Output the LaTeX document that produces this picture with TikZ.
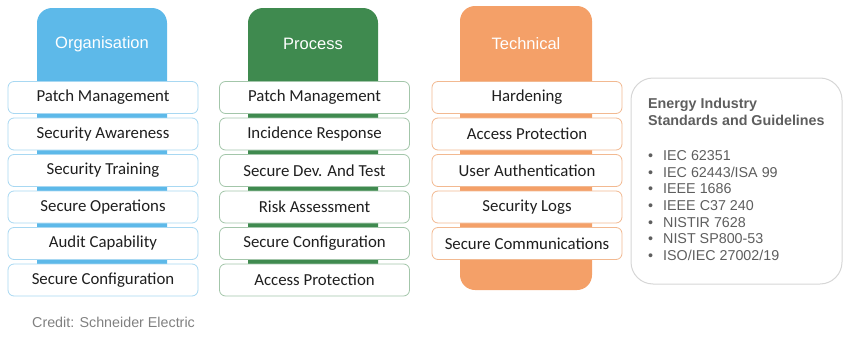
\documentclass[tikz,border=0pt]{standalone}
\usepackage{fontspec}
\setmainfont{Liberation Sans}
\newfontfamily\boxfont{Carlito}
\definecolor{orgblue}{HTML}{5DB9E9}
\definecolor{procgreen}{HTML}{3F8A4F}
\definecolor{techorange}{HTML}{F4A068}
\definecolor{orgline}{HTML}{A8D8F2}
\definecolor{procline}{HTML}{A3C6AA}
\definecolor{techline}{HTML}{F2B991}
\definecolor{stdline}{HTML}{D6D6D6}
\definecolor{stdtext}{HTML}{5E5E5E}
\tikzset{
  tab/.style={rounded corners=15pt, minimum width=130pt, inner sep=0pt},
  tabtitle/.style={text=white, font=\fontsize{16.5}{19}\selectfont},
  item/.style={draw, fill=white, rounded corners=6pt, line width=0.8pt,
    minimum width=190pt, minimum height=32pt, inner sep=0pt,
    text=black!88, font=\boxfont\fontsize{16.8}{19}\selectfont},
  orgitem/.style={item, draw=orgline},
  procitem/.style={item, draw=procline},
  techitem/.style={item, draw=techline}
}

\begin{document}
\begin{tikzpicture}[x=1pt, y=-1pt]
    \useasboundingbox (0,0) rectangle (844,340);
    % column backgrounds
    \fill[orgblue, tab] (37,8) rectangle (167,280);
    \fill[procgreen, tab] (248,8) rectangle (378,280);
    \fill[techorange, tab] (460,6) rectangle (592,290);
    \node[tabtitle] (orgtitle) at (102,44) {Organisation};
    \node[tabtitle] (proctitle) at (313,44) {Process};
    \node[tabtitle] (techtitle) at (526,44) {Technical};
    % organisation
    \node[orgitem] (org1) at (103,97.5) {Patch Management};
    \node[orgitem] (org2) at (103,134) {Security Awareness};
    \node[orgitem] (org3) at (103,170.5) {Security Training};
    \node[orgitem] (org4) at (103,207) {Secure Operations};
    \node[orgitem] (org5) at (103,243.5) {Audit Capability};
    \node[orgitem] (org6) at (103,280) {Secure Configuration};
    % process
    \node[procitem] (proc1) at (314.5,97.5) {Patch Management};
    \node[procitem] (proc2) at (314.5,134) {Incidence Response};
    \node[procitem] (proc3) at (314.5,170.5) {Secure Dev. And Test};
    \node[procitem] (proc4) at (314.5,207) {Risk Assessment};
    \node[procitem] (proc5) at (314.5,243.5) {Secure Configuration};
    \node[procitem] (proc6) at (314.5,280) {Access Protection};
    % technical
    \node[techitem] (tech1) at (527,97.5) {Hardening};
    \node[techitem] (tech2) at (527,134) {Access Protection};
    \node[techitem] (tech3) at (527,170.5) {User Authentication};
    \node[techitem] (tech4) at (527,207) {Security Logs};
    \node[techitem] (tech5) at (527,243.5) {Secure Communications};
    % standards
    \draw[stdline, line width=1pt, rounded corners=22pt] (631,78) rectangle (842,284);
    \node[anchor=north west, inner sep=0pt, align=left, text=stdtext,
      font=\fontsize{14.3}{16.6}\selectfont] (std) at (648,98)
      {\textbf{Energy Industry}\\
       \textbf{Standards and Guidelines}\\[19pt]
       \makebox[15pt][l]{\textbullet}IEC 62351\\
       \makebox[15pt][l]{\textbullet}IEC 62443/ISA 99\\
       \makebox[15pt][l]{\textbullet}IEEE 1686\\
       \makebox[15pt][l]{\textbullet}IEEE C37 240\\
       \makebox[15pt][l]{\textbullet}NISTIR 7628\\
       \makebox[15pt][l]{\textbullet}NIST SP800-53\\
       \makebox[15pt][l]{\textbullet}ISO/IEC 27002/19};
    \node[anchor=west, inner sep=0pt, text=black!50, font=\fontsize{14.3}{17}\selectfont]
      (credit) at (32,322) {Credit: Schneider Electric};
\end{tikzpicture}
\end{document}
